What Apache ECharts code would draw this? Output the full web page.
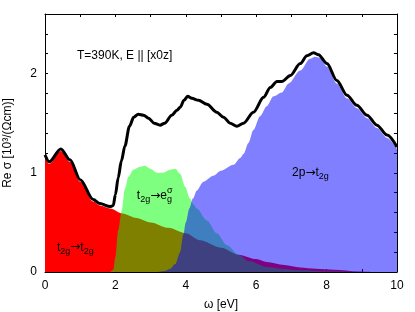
<!DOCTYPE html>
<html><head><meta charset="utf-8">
<script src="https://cdn.jsdelivr.net/npm/echarts@6/dist/echarts.min.js"></script>
<style>html,body{margin:0;padding:0;background:#fff}#c{width:415px;height:312px}</style>
</head><body><div id="c"></div>
<script>
// total optical conductivity (black line)
const totalX = [0,0.12,0.45,0.71,1.0,1.37,1.56,1.85,1.94,2.0,2.08,2.17,2.27,2.4,2.52,2.65,2.8,2.94,3.1,3.27,3.4,3.6,3.75,3.84,3.95,4.05,4.17,4.36,4.6,4.88,5.07,5.26,5.45,5.64,5.92,6.21,6.4,6.59,6.73,6.97,7.25,7.44,7.63,7.77,8.01,8.29,8.58,8.86,9.15,9.43,9.72,10];
const totalY = [1.18,1.11,1.24,1.13,0.93,0.73,0.69,0.66,0.67,0.78,0.95,1.12,1.27,1.47,1.56,1.59,1.58,1.55,1.5,1.48,1.5,1.58,1.63,1.66,1.73,1.77,1.75,1.73,1.69,1.61,1.56,1.5,1.47,1.5,1.61,1.76,1.86,1.92,1.92,1.98,2.1,2.18,2.21,2.19,2.1,1.93,1.78,1.68,1.58,1.48,1.38,1.26];
// t2g -> t2g
const redX = [0,0.12,0.45,0.71,1.0,1.37,1.56,1.85,2.2,2.6,3.0,3.5,4.0,4.4,5.0,5.5,6.0,6.3,6.8,7.25,7.7,8.2,8.9,9.3];
const redY = [1.16,1.09,1.22,1.11,0.91,0.71,0.67,0.64,0.59,0.545,0.5,0.445,0.39,0.32,0.245,0.175,0.13,0.1,0.07,0.045,0.032,0.022,0.005,0];
// t2g -> eg sigma
const greenX = [1.85,1.94,2.0,2.08,2.18,2.27,2.37,2.51,2.7,2.84,2.99,3.18,3.36,3.55,3.7,3.84,3.98,4.12,4.22,4.31,4.6,4.88,5.17,5.5,5.8,6.3,6.8,7.25,8.2,8.9];
const greenY = [0,0.02,0.15,0.42,0.62,0.84,0.96,1.03,1.06,1.07,1.04,1.0,1.0,1.03,1.04,0.99,0.86,0.74,0.68,0.64,0.52,0.39,0.27,0.175,0.11,0.05,0.03,0.017,0.004,0];
// 2p -> t2g
const blueX = [3.2,3.4,3.55,3.7,3.84,3.93,4.0,4.1,4.2,4.31,4.5,4.78,5.0,5.35,5.55,5.64,5.78,5.92,6.11,6.3,6.49,6.73,6.92,7.25,7.53,7.67,7.8,8.01,8.29,8.58,8.86,9.15,9.43,9.72,10];
const blueY = [0,0.01,0.03,0.08,0.2,0.38,0.5,0.64,0.74,0.82,0.91,0.97,1.02,1.08,1.15,1.19,1.3,1.43,1.57,1.67,1.77,1.81,1.9,2.03,2.15,2.17,2.16,2.07,1.9,1.75,1.65,1.55,1.45,1.35,1.24];
const xTicks = [0,2,4,6,8,10];
const yTicks = [0,1,2];

const FONT = '"Liberation Sans", Arial, sans-serif';
function pairs(xs, ys){ return xs.map((x,i)=>[x, ys[i]]); }
const near = (v, list) => list.some(t => Math.abs(t - v) < 1e-6);

const chart = echarts.init(document.getElementById('c'), null, {renderer:'canvas'});
const axisCommon = {
  type:'value',
  axisLine:{show:true, onZero:false, lineStyle:{color:'#000', width:1}},
  axisTick:{show:true, inside:true, length:3, lineStyle:{color:'#000', width:1}},
  splitLine:{show:false}
};
function areaSeries(xs, ys, color, opacity){
  return {type:'line', data:pairs(xs,ys), smooth:0.3, smoothMonotone:'x', symbol:'none',
    lineStyle:{width:0, opacity:0}, areaStyle:{color:color, opacity:opacity}, silent:true};
}
chart.setOption({
  animation:false,
  grid:{left:45, right:18, top:14, bottom:40, containLabel:false, outerBoundsMode:'none'},
  xAxis:[
    Object.assign({}, axisCommon, {min:0, max:10, interval:1, position:'bottom',
      axisLabel:{formatter:v=> near(v,xTicks)? String(Math.round(v)) : '', color:'#000', fontSize:12, fontFamily:FONT, margin:8},
      name:'ω [eV]', nameLocation:'middle', nameGap:27, nameTextStyle:{color:'#000', fontSize:12, fontFamily:FONT}}),
    Object.assign({}, axisCommon, {min:0, max:10, interval:1, position:'top', axisLabel:{show:false}})
  ],
  yAxis:[
    Object.assign({}, axisCommon, {min:0, max:2.6, interval:0.2, position:'left',
      axisLabel:{formatter:v=> near(v,yTicks)? String(Math.round(v)) : '', color:'#000', fontSize:12, fontFamily:FONT, margin:8},
      name:'Re σ [10³/(Ωcm)]', nameLocation:'middle', nameGap:31, nameRotate:90, nameTextStyle:{color:'#000', fontSize:12, fontFamily:FONT}}),
    Object.assign({}, axisCommon, {min:0, max:2.6, interval:0.2, position:'right', axisLabel:{show:false}})
  ],
  series:[
    areaSeries(redX, redY, '#ff0000', 1),
    areaSeries(greenX, greenY, 'rgb(0,255,0)', 0.5),
    areaSeries(blueX, blueY, 'rgb(0,0,255)', 0.5),
    {type:'line', data:pairs(totalX,totalY), smooth:0.3, smoothMonotone:'x', symbol:'none',
      lineStyle:{color:'#000', width:3}, silent:true, z:5}
  ]
});

// annotations placed by data coordinates
const P = (x,y) => chart.convertToPixel({gridIndex:0}, [x,y]);
const ctx = document.createElement('canvas').getContext('2d');
function tw(t, size, fam){ ctx.font = size + 'px ' + (fam || '"Liberation Sans"'); return ctx.measureText(t).width; }
const rich = {
  s:{fontSize:9, fontFamily:FONT, padding:[8,0,0,0], fill:'#000'},
  a:{fontSize:12, fontFamily:'"DejaVu Sans"', fill:'#000'}
};
const pT = P(0.91, 2.18), pA = P(0.34, 0.25), pB = P(2.61, 0.77), pC = P(7.02, 1.0);
const gx = pB[0] + tw('t',12) + tw('2g',9) + tw('→',12,'"DejaVu Sans"') + tw('e',12);
chart.setOption({graphic:[
  {type:'text', x:pT[0], y:pT[1], style:{text:'T=390K, E || [x0z]', font:'12px '+FONT, fill:'#000', verticalAlign:'middle'}, z:10},
  {type:'text', x:pA[0], y:pA[1], style:{text:'t{s|2g}{a|→}t{s|2g}', rich:rich, font:'12px '+FONT, fill:'#000', verticalAlign:'middle'}, z:10},
  {type:'text', x:pB[0], y:pB[1], style:{text:'t{s|2g}{a|→}e{s|g}', rich:rich, font:'12px '+FONT, fill:'#000', verticalAlign:'middle'}, z:10},
  {type:'text', x:gx, y:pB[1]-5, style:{text:'σ', font:'9px '+FONT, fill:'#000', verticalAlign:'middle'}, z:10},
  {type:'text', x:pC[0], y:pC[1], style:{text:'2p{a|→}t{s|2g}', rich:rich, font:'12px '+FONT, fill:'#000', verticalAlign:'middle'}, z:10}
]});
</script>
</body></html>
